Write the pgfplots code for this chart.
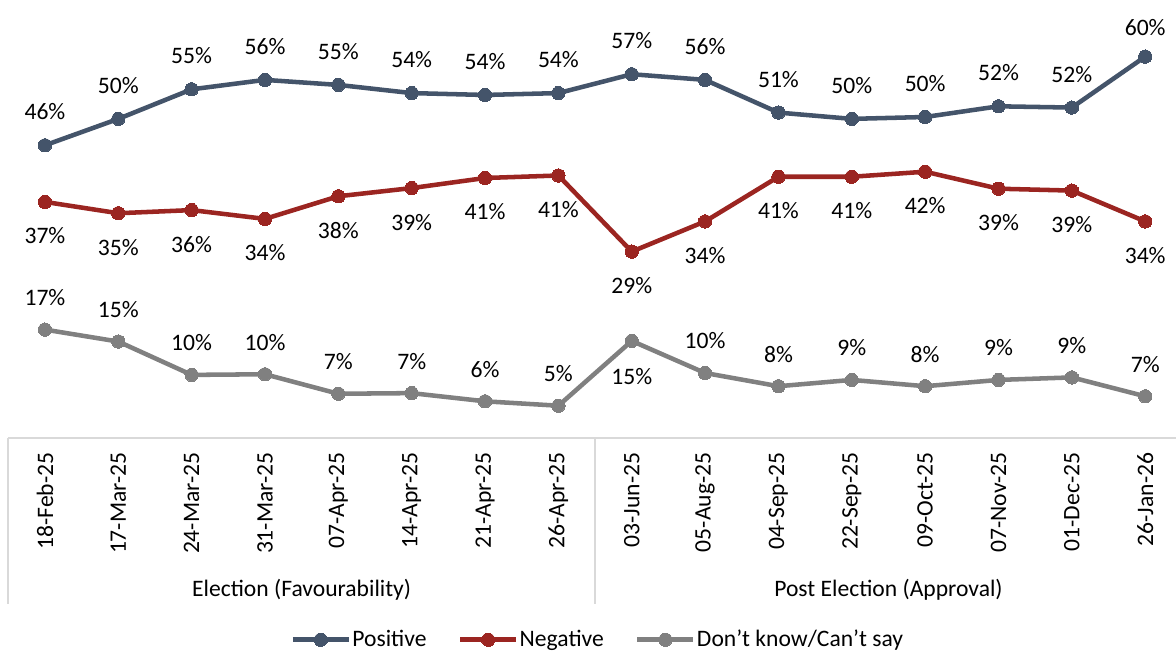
\documentclass[border=0pt]{standalone}
\usepackage{fontspec}
\setmainfont{Carlito}
\usepackage{pgfplots}
\pgfplotsset{compat=1.18}

\definecolor{posc}{HTML}{44546A}
\definecolor{negc}{HTML}{9B2521}
\definecolor{dkc}{HTML}{808080}
\definecolor{linec}{HTML}{D9D9D9}

\pgfplotsset{
  lbl/.style={
    nodes near coords={\pgfplotspointmeta\%},
    point meta=explicit symbolic,
    visualization depends on=\thisrow{dy} \as \dy,
    every node near coord/.append style={anchor=center, yshift=\dy pt, text=black, inner sep=0pt},
  },
  ser/.style={color=#1, line width=3.4pt, mark=*, mark size=5pt, mark options={fill=#1, draw=#1, line width=0pt}},
}

\begin{document}
\fontsize{17.7}{21}\selectfont
\begin{tikzpicture}
\useasboundingbox (0,0) rectangle (882pt,489pt);
\begin{axis}[
  at={(6.2pt,160.7pt)}, anchor=south west,
  scale only axis,
  width=875.8pt, height=328.3pt,
  xmin=-0.5, xmax=15.42,
  ymin=-0.59, ymax=69,
  clip=false,
  axis x line*=bottom, axis y line=none,
  x axis line style={draw=none},
  ytick=\empty,
  xtick={0,...,15},
  major tick length=0pt,
  xticklabels={18-Feb-25,17-Mar-25,24-Mar-25,31-Mar-25,07-Apr-25,14-Apr-25,21-Apr-25,26-Apr-25,
               03-Jun-25,05-Aug-25,04-Sep-25,22-Sep-25,09-Oct-25,07-Nov-25,01-Dec-25,26-Jan-26},
  xticklabel style={rotate=90, anchor=east, inner sep=0pt},
  xticklabel shift=11pt,
  legend columns=3,
  legend style={at={(0.5046,-0.4615)}, anchor=center, draw=none, fill=none,
    nodes={inner sep=1pt},
    /tikz/every odd column/.append style={column sep=0pt},
    /tikz/every even column/.append style={column sep=22.5pt},
    inner sep=0pt},
  legend cell align=left,
  legend image code/.code={
    \draw[#1, mark repeat=2, mark phase=2] plot coordinates {(0pt,0pt) (21pt,0pt) (42pt,0pt)};
  },
]

\draw[linec, line width=1.5pt] (axis cs:-0.5,-0.59) -- (axis cs:15.42,-0.59);
\draw[linec, line width=1.5pt] (axis cs:-0.5,-0.59) -- ([yshift=-125pt]axis cs:-0.5,-0.59);
\draw[linec, line width=1.5pt] (axis cs:7.5,-0.59) -- ([yshift=-125pt]axis cs:7.5,-0.59);
\node[yshift=-114pt] at (axis cs:3.5,-0.59) {Election (Favourability)};
\node[yshift=-114pt] at (axis cs:11.5,-0.59) {Post Election (Approval)};

\addplot[ser=posc, lbl] table[meta=lab] {
x y lab dy
0 45.9 46 25
1 50.1 50 25
2 54.8 55 25
3 56.3 56 25
4 55.5 55 25
5 54.2 54 25
6 53.9 54 25
7 54.2 54 25
8 57.2 57 25
9 56.3 56 25
10 51.1 51 25
11 50.1 50 25
12 50.4 50 25
13 52.1 52 25
14 51.9 52 25
15 60.0 60 22
};
\addlegendentry{Positive}

\addplot[ser=negc, lbl] table[meta=lab] {
x y lab dy
0 36.9 37 -25.5
1 35.1 35 -25.5
2 35.6 36 -25.5
3 34.2 34 -25.5
4 37.8 38 -25.5
5 39.1 39 -25.5
6 40.7 41 -25.5
7 41.1 41 -25.5
8 29.0 29 -25.5
9 33.8 34 -25.5
10 40.9 41 -25.5
11 40.9 41 -25.5
12 41.7 42 -25.5
13 39.0 39 -25.5
14 38.7 39 -25.5
15 33.8 34 -25.5
};
\addlegendentry{Negative}

\addplot[ser=dkc, lbl] table[meta=lab] {
x y lab dy
0 16.6 17 24
1 14.7 15 24
2 9.4 10 24
3 9.5 10 24
4 6.4 7 24
5 6.5 7 24
6 5.2 6 24
7 4.5 5 24
8 14.8 15 -27
9 9.7 10 24
10 7.6 8 24
11 8.6 9 24
12 7.6 8 24
13 8.6 9 24
14 9.0 9 24
15 6.0 7 24
};
\addlegendentry{Don’t know/Can’t say}

\end{axis}
\end{tikzpicture}
\end{document}
